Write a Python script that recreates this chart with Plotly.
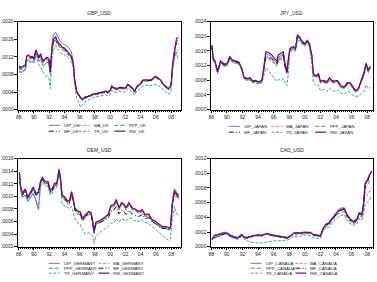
import plotly.graph_objects as go

# ---------------- DATA (values in units of 1e-4) ----------------
t_uk = [1988.05,1988.3,1988.6,1988.9,1989.05,1989.3,1989.55,1989.8,1990.0,1990.25,1990.45,1990.65,1990.9,
        1991.15,1991.45,1991.7,1991.95,1992.15,1992.35,1992.55,1992.85,1993.1,1993.4,1993.7,1994.0,1994.3,
        1994.6,1994.9,1995.15,1995.35,1995.6,1995.85,1996.1,1996.4,1996.7,1997.0,1997.4,1997.8,1998.2,1998.6,
        1999.0,1999.4,1999.7,2000.0,2000.2,2000.5,2000.9,2001.3,2001.7,2002.0,2002.3,2002.6,2002.9,2003.2,
        2003.5,2003.9,2004.3,2004.7,2005.1,2005.5,2005.9,2006.3,2006.7,2007.0,2007.3,2007.6,2007.85,2008.0,
        2008.2,2008.45,2008.7,2008.95]
uip_uk = [8.6,8.4,8.7,9.0,11.2,11.4,10.8,11.0,10.6,12.8,12.0,11.0,11.6,10.0,10.2,10.8,10.4,8.0,14.5,17.0,17.6,
          16.5,15.6,15.0,14.8,14.4,14.0,13.2,11.0,6.6,4.0,3.2,2.7,2.3,2.8,2.9,3.2,3.5,3.6,3.8,3.9,4.1,3.9,4.3,
          5.3,4.9,4.7,5.0,4.9,4.8,5.7,5.3,4.9,4.1,5.2,5.7,6.6,6.7,6.6,6.8,7.5,7.1,6.5,5.7,5.1,4.7,5.0,5.8,10.0,
          13.5,15.6,15.8]
ma_uk = [9.4,9.3,9.6,9.9,11.8,12.0,11.7,11.8,11.3,13.2,12.5,11.7,12.3,10.9,11.2,11.6,11.3,8.6,13.4,15.2,15.9,
         14.9,14.4,13.8,13.6,13.0,12.6,11.8,10.4,6.5,4.0,3.2,2.6,2.2,2.7,2.8,3.1,3.4,3.5,3.7,3.8,4.0,3.8,4.2,
         5.2,4.8,4.6,4.9,4.8,4.7,5.6,5.2,4.8,4.0,5.1,5.6,6.5,6.6,6.5,6.7,7.4,7.0,6.4,5.6,5.0,4.6,4.9,5.6,9.8,
         12.5,13.6,13.3]
ppp_uk = [9.2,9.1,9.4,9.7,11.6,11.8,11.5,11.6,11.1,13.0,12.3,11.5,12.1,10.7,11.0,11.4,11.1,8.4,13.2,15.0,15.7,
          14.7,14.2,13.6,13.4,12.8,12.4,11.6,10.2,6.3,3.9,3.1,2.5,2.1,2.6,2.7,3.0,3.3,3.4,3.6,3.7,3.9,3.7,4.1,
          5.1,4.7,4.5,4.8,4.7,4.6,5.5,5.1,4.7,3.9,5.0,5.5,6.4,6.5,6.4,6.6,7.3,6.9,6.3,5.5,4.9,4.5,4.8,5.5,9.6,
          12.2,13.0,12.8]
mf_uk = [9.6,9.5,9.8,10.0,12.0,12.2,11.8,11.9,11.4,13.4,12.6,11.8,12.5,11.0,11.3,11.7,11.4,8.6,13.6,15.5,16.2,
         15.1,14.6,14.0,13.8,13.2,12.8,12.0,10.6,6.6,4.1,3.3,2.7,2.3,2.8,2.9,3.2,3.5,3.6,3.8,3.9,4.1,3.9,4.3,
         5.3,4.9,4.7,5.0,4.9,4.8,5.7,5.3,4.9,4.1,5.2,5.7,6.6,6.7,6.6,6.8,7.5,7.1,6.5,5.7,5.1,4.7,5.0,5.8,10.1,
         13.4,15.3,15.0]
tr_uk = [8.8,8.6,8.9,9.2,11.0,11.2,10.6,10.9,10.6,12.2,11.2,10.2,9.5,8.6,7.8,7.6,7.3,4.8,11.5,13.5,14.6,
         13.8,13.2,12.6,12.5,12.0,11.6,10.8,9.5,5.5,2.6,1.8,0.6,1.2,1.8,2.0,2.4,2.8,2.9,3.1,3.2,3.4,3.1,3.5,
         4.4,4.0,3.9,4.2,4.1,4.0,4.8,4.5,4.1,3.3,4.3,4.8,5.4,5.6,5.4,5.5,5.8,5.5,5.0,4.4,3.9,3.5,3.7,4.6,9.0,
         12.0,12.8,11.3]
rw_uk = [9.9,9.6,9.9,10.2,12.2,12.4,12.0,12.1,11.6,13.6,12.8,12.0,12.7,11.2,11.5,11.9,11.6,8.8,13.9,15.9,16.6,
         15.4,14.9,14.2,14.0,13.4,13.0,12.2,10.8,6.8,4.2,3.4,2.8,2.4,2.9,3.0,3.3,3.6,3.7,3.9,4.0,4.2,4.0,4.4,
         5.4,5.0,4.8,5.1,5.0,4.9,5.8,5.4,5.0,4.2,5.3,5.8,6.7,6.8,6.7,6.9,7.6,7.2,6.6,5.8,5.2,4.8,5.1,5.9,10.4,
         14.0,16.2,16.4]

t_jp = [1988.08,1988.25,1988.5,1988.8,1989.2,1989.65,1990.07,1990.36,1990.7,1991.1,1991.54,1991.9,1992.2,1992.6,
        1993.0,1993.3,1993.65,1994.08,1994.5,1994.75,1995.0,1995.34,1995.76,1996.1,1996.4,1996.6,1997.03,1997.24,
        1997.45,1997.7,1997.87,1998.08,1998.5,1998.8,1999.05,1999.35,1999.56,1999.98,2000.32,2000.6,2000.9,
        2001.1,2001.45,2001.75,2002.0,2002.43,2002.85,2003.15,2003.44,2003.78,2004.2,2004.62,2005.05,2005.47,
        2005.8,2006.1,2006.52,2006.82,2007.16,2007.58,2007.87,2008.13,2008.42]
uip_jp = [17.2,13.6,12.9,10.2,13.0,12.2,12.4,14.2,13.4,13.0,12.7,11.2,8.7,8.3,8.5,7.6,7.8,7.4,7.8,11.6,15.2,15.0,
          14.3,13.4,12.8,14.2,14.8,15.2,12.2,10.0,13.0,16.3,16.9,16.4,20.0,19.5,18.6,17.7,18.6,17.7,14.6,9.6,9.0,
          9.6,7.6,7.8,7.4,8.5,7.8,7.6,7.8,6.3,6.0,7.2,7.2,6.3,5.0,5.4,7.6,9.8,12.4,10.6,11.5]
ma_jp = [16.8,13.4,12.6,10.0,12.8,11.8,12.2,13.9,13.0,12.8,12.5,10.9,8.5,8.1,8.3,7.4,7.6,7.2,7.6,10.8,14.0,13.8,
         13.2,12.4,11.8,13.2,13.8,14.1,11.5,9.6,12.4,15.8,16.4,16.0,19.6,19.2,18.3,17.4,18.2,17.4,14.2,9.2,8.6,
         9.2,7.2,7.4,7.0,8.1,7.4,7.2,7.4,6.0,5.7,6.8,6.8,5.9,4.7,5.1,7.1,9.2,11.8,10.0,11.0]
ppp_jp = [17.0,13.5,12.7,10.1,12.9,11.9,12.3,14.0,13.1,12.9,12.6,11.0,8.6,8.2,8.4,7.5,7.7,7.3,7.7,11.0,14.3,14.1,
          13.5,12.7,12.1,13.5,14.1,14.4,11.8,9.8,12.7,16.0,16.6,16.2,19.8,19.4,18.5,17.5,18.4,17.5,14.4,9.3,8.8,
          9.3,7.3,7.5,7.1,8.2,7.5,7.3,7.5,6.1,5.8,6.9,6.9,6.0,4.8,5.2,7.3,9.4,12.0,10.3,11.2]
mf_jp = [17.4,13.8,13.0,10.3,13.1,12.2,12.5,14.3,13.4,13.1,12.8,11.2,8.8,8.4,8.6,7.7,7.9,7.5,7.9,11.3,14.7,14.5,
         13.9,13.0,12.4,13.9,14.5,14.8,12.0,10.0,13.1,16.4,17.0,16.5,20.1,19.6,18.7,17.8,18.7,17.8,14.7,9.7,9.1,
         9.7,7.7,7.9,7.5,8.6,7.9,7.7,7.9,6.4,6.1,7.3,7.3,6.4,5.1,5.5,7.7,9.9,12.5,10.7,11.6]
tr_jp = [17.1,13.4,12.5,9.8,12.6,11.7,12.0,13.8,12.9,12.6,12.3,10.7,8.3,7.9,8.1,7.2,7.4,7.0,7.3,9.5,11.4,10.6,
         9.5,8.5,7.8,8.2,8.0,8.5,7.5,6.5,9.5,15.5,16.5,16.0,19.0,18.7,18.0,17.3,18.0,17.0,12.5,7.5,6.5,
         6.8,5.2,5.5,5.0,5.8,5.3,5.0,5.4,4.5,4.3,5.0,4.8,4.0,3.6,3.7,4.2,5.0,6.8,5.8,6.0]
rw_jp = [17.6,14.0,13.2,10.5,13.3,12.4,12.7,14.5,13.6,13.3,13.0,11.4,8.9,8.5,8.7,7.8,8.0,7.6,8.0,11.8,15.8,15.6,
         14.9,14.0,13.3,14.9,15.4,15.8,12.7,10.5,13.6,16.7,17.2,16.7,20.3,19.8,18.9,18.0,18.9,18.0,14.9,9.8,9.2,
         9.8,7.8,8.0,7.6,8.7,8.0,7.8,8.0,6.5,6.2,7.4,7.4,6.5,5.2,5.6,7.8,10.0,12.7,10.9,11.8]

t_de = [1988.09,1988.26,1988.5,1988.87,1989.2,1989.56,1989.9,1990.25,1990.6,1990.86,1991.1,1991.46,1991.85,
        1992.15,1992.4,1992.7,1993.0,1993.28,1993.45,1993.7,1994.06,1994.4,1994.67,1994.93,1995.1,1995.36,1995.7,
        1996.05,1996.4,1996.75,1997.2,1997.5,1997.7,1997.87,1998.13,1998.56,1999.0,1999.43,1999.77,2000.08,2000.5,
        2000.8,2001.16,2001.5,2001.8,2002.1,2002.46,2002.9,2003.3,2003.76,2004.2,2004.6,2005.05,2005.5,2005.9,
        2006.35,2006.8,2007.2,2007.65,2007.9,2008.17,2008.43,2008.74,2009.04]
uip_de = [13.4,11.2,9.8,10.2,9.2,9.8,10.4,9.5,8.0,12.0,12.8,12.2,12.0,10.6,10.8,11.8,11.8,14.4,13.4,10.0,9.8,9.2,
          9.2,10.8,10.0,8.1,7.6,7.5,6.4,7.0,7.5,7.3,6.1,4.4,5.8,6.0,6.3,6.7,7.1,8.4,8.6,9.4,8.1,8.9,8.7,8.1,8.9,
          8.1,7.9,7.5,7.8,7.0,7.1,6.2,6.0,5.5,5.1,5.1,4.9,4.9,9.2,11.2,10.6,10.2]
ma_de = [13.6,11.5,10.3,11.0,9.7,10.5,11.3,10.3,10.5,12.2,12.8,12.2,12.2,10.8,11.0,11.9,11.9,13.9,13.0,10.0,9.7,
         9.1,9.1,10.4,9.8,8.0,7.5,7.4,6.3,6.9,7.4,7.2,6.0,4.3,5.7,5.9,6.2,6.6,7.0,8.2,8.4,9.2,7.9,8.7,8.5,7.9,
         8.7,7.9,7.7,7.3,7.6,6.8,6.9,6.0,5.8,5.3,4.9,4.9,4.7,4.8,8.5,10.3,9.7,9.4]
ppp_de = [13.5,11.4,10.2,10.9,9.6,10.4,11.2,10.2,10.4,12.0,12.6,12.0,12.0,10.6,10.8,11.7,11.7,13.8,12.9,9.8,9.4,
          8.8,8.8,10.1,9.5,7.7,7.2,7.1,6.0,6.6,7.1,6.9,5.7,4.0,5.5,5.7,6.1,6.5,6.9,8.2,8.4,9.2,7.9,8.7,8.5,7.9,
          8.7,7.9,7.7,7.3,7.6,6.8,6.9,6.0,5.8,5.3,4.9,4.9,4.7,4.8,8.7,10.5,10.0,9.6]
mf_de = [13.5,11.4,10.2,10.9,9.6,10.4,11.2,10.2,10.4,12.1,12.7,12.1,12.1,10.7,10.9,11.8,11.8,13.9,13.0,9.9,9.6,
         9.0,9.0,10.4,9.7,7.9,7.4,7.3,6.2,6.8,7.3,7.1,5.9,4.2,5.6,5.8,6.0,6.3,6.6,7.6,7.8,8.4,7.2,7.8,7.6,7.1,
         7.8,7.2,7.0,6.8,7.1,6.5,6.6,5.9,5.7,5.3,4.9,4.9,4.8,4.8,9.0,11.0,10.4,10.0]
tr_de = [13.2,11.0,9.8,10.3,9.2,9.9,10.6,9.3,7.8,11.6,12.2,11.7,11.6,10.2,10.4,11.4,11.4,13.5,12.6,8.8,8.5,8.3,
         8.0,8.4,7.8,6.6,5.8,5.6,4.6,4.0,4.2,3.9,3.7,2.5,3.6,4.2,4.6,5.0,5.2,5.7,5.8,6.4,5.9,6.5,6.3,6.1,6.6,
         6.3,6.1,6.0,6.3,5.9,5.7,5.2,4.8,4.3,3.8,3.5,3.0,3.2,6.5,8.4,7.2,6.8]
rw_de = [13.8,11.7,10.5,11.2,9.9,10.7,11.5,10.5,10.7,12.4,13.0,12.4,12.4,11.0,11.2,12.1,12.1,14.2,13.3,10.2,9.9,
         9.3,9.3,10.7,10.0,8.2,7.7,7.6,6.5,7.1,7.6,7.4,6.2,4.5,5.9,6.1,6.4,6.8,7.2,8.5,8.7,9.5,8.2,9.0,8.8,8.2,
         9.0,8.2,8.0,7.6,7.9,7.1,7.2,6.3,6.1,5.6,5.2,5.2,5.0,5.0,8.9,10.8,10.2,9.8]

t_ca = [1988.08,1988.4,1988.8,1989.23,1989.66,1990.1,1990.5,1990.94,1991.36,1991.66,1991.9,1992.2,1992.64,
        1993.06,1993.5,1993.9,1994.34,1994.77,1995.2,1995.6,1996.04,1996.47,1996.9,1997.3,1997.74,1998.17,1998.6,
        1999.02,1999.45,1999.87,2000.3,2000.72,2001.15,2001.57,2002.0,2002.3,2002.64,2003.06,2003.5,2003.9,
        2004.34,2004.77,2005.06,2005.4,2005.83,2006.26,2006.68,2006.98,2007.32,2007.53,2007.74,2008.04,2008.3,
        2008.6]
uip_ca = [1.1,1.6,1.7,1.8,2.0,1.9,1.6,1.4,1.3,1.5,1.6,1.3,1.3,1.4,1.5,1.6,1.6,1.7,1.8,1.7,1.6,1.5,1.4,1.3,1.3,
          1.5,1.8,1.9,1.9,2.0,2.0,2.0,1.7,1.6,1.5,2.3,3.1,3.3,3.9,4.6,5.1,5.3,5.3,4.5,3.8,3.5,3.8,4.7,4.5,6.0,
          8.8,9.2,9.9,10.2]
ma_ca = [1.0,1.4,1.5,1.6,1.8,1.7,1.5,1.3,1.2,1.3,1.6,1.2,1.2,1.3,1.4,1.5,1.5,1.6,1.7,1.6,1.5,1.4,1.4,1.3,1.2,
         1.4,1.8,1.8,1.8,1.9,1.9,1.9,1.6,1.5,1.4,2.3,2.9,3.1,3.7,4.3,4.8,5.0,5.1,4.3,3.6,3.3,3.6,4.4,4.2,5.2,
         7.5,7.0,7.6,8.2]
ppp_ca = [0.9,1.3,1.4,1.5,1.7,1.6,1.4,1.2,1.1,1.3,1.5,1.2,1.1,1.3,1.4,1.5,1.4,1.6,1.7,1.5,1.4,1.4,1.3,1.2,1.1,
          1.4,1.7,1.7,1.7,1.8,1.8,1.8,1.5,1.4,1.4,2.2,2.7,2.9,3.5,4.1,4.5,4.7,4.8,4.0,3.4,3.1,3.4,4.2,4.0,5.4,
          8.0,8.4,8.9,9.0]
mf_ca = [1.0,1.2,1.3,1.6,1.8,1.7,1.4,1.3,1.2,1.4,1.6,1.3,1.2,1.4,1.5,1.6,1.5,1.7,1.8,1.6,1.5,1.5,1.4,1.3,1.2,
         1.4,1.8,1.9,1.8,1.9,1.9,1.9,1.6,1.5,1.4,2.3,2.9,3.1,3.7,4.3,4.8,5.0,5.1,4.3,3.6,3.3,3.6,4.5,4.3,5.6,
         8.4,8.8,9.6,10.0]
tr_ca = [0.9,1.3,1.4,1.5,1.7,1.6,1.3,1.1,1.0,1.2,1.4,1.0,0.8,0.6,0.6,0.5,0.5,0.6,0.7,0.7,0.8,0.8,0.8,0.8,0.9,
         1.1,1.4,1.4,1.4,1.6,1.6,1.5,1.2,1.1,1.1,2.0,2.5,2.6,3.2,3.7,4.1,4.3,4.4,3.7,3.1,2.9,3.1,3.8,3.6,4.5,
         5.8,6.0,6.5,6.9]
rw_ca = [1.0,1.5,1.6,1.7,1.9,1.8,1.5,1.3,1.2,1.4,1.7,1.3,1.2,1.4,1.5,1.6,1.5,1.7,1.8,1.6,1.5,1.5,1.4,1.3,1.2,
         1.5,1.9,1.9,1.8,2.0,2.0,1.9,1.6,1.5,1.5,2.4,3.0,3.2,3.8,4.4,4.9,5.1,5.2,4.4,3.7,3.4,3.7,4.6,4.4,5.8,
         8.6,9.0,9.8,10.3]

year_ticks = [1988, 1990, 1992, 1994, 1996, 1998, 2000, 2002, 2004, 2006, 2008]
year_labels = ["88", "90", "92", "94", "96", "98", "00", "02", "04", "06", "08"]

yt_uk = [0, 4, 8, 12, 16, 20]
yl_uk = [".0000", ".0004", ".0008", ".0012", ".0016", ".0020"]
yt_jp = [0, 4, 8, 12, 16, 20, 24]
yl_jp = [".0000", ".0004", ".0008", ".0012", ".0016", ".0020", ".0024"]
yt_de = [2, 4, 6, 8, 10, 12, 14, 16]
yl_de = [".0002", ".0004", ".0006", ".0008", ".0010", ".0012", ".0014", ".0016"]
yt_ca = [0, 2, 4, 6, 8, 10, 12]
yl_ca = [".0000", ".0002", ".0004", ".0006", ".0008", ".0010", ".0012"]

SCALE = 1e-4

# ---------------- STYLE ----------------
W, H = 377, 282
FONT = "Liberation Sans"
styles = {
    "UIP": dict(color="#6a6aff", dash="solid", width=1.0),
    "MA": dict(color="#ff7070", dash="3px,1.5px", width=1.0),
    "PPP": dict(color="#33a033", dash="4px,2px", width=1.0),
    "MF": dict(color="#000000", dash="5px,2px,1px,2px", width=0.9),
    "TR": dict(color="#3aa39a", dash="3px,1.5px", width=1.0),
    "RW": dict(color="#800080", dash="solid", width=1.2),
}


def px(x):
    return x / W


def py(y):
    return 1 - y / H


panels = [
    dict(name="GBP_USD", suffix="UK", t=t_uk,
         series=dict(UIP=uip_uk, MA=ma_uk, PPP=ppp_uk, MF=mf_uk, TR=tr_uk, RW=rw_uk),
         xdom=(16, 180), ydom=(19, 109), xr=[1987.9, 2009.3], yr=[0, 20], yt=yt_uk, yl=yl_uk,
         legend=dict(cols=[47, 77, 113], rows=[125, 131],
                     order=[["UIP", "MA", "PPP"], ["MF", "TR", "RW"]])),
    dict(name="JPY_USD", suffix="JAPAN", t=t_jp,
         series=dict(UIP=uip_jp, MA=ma_jp, PPP=ppp_jp, MF=mf_jp, TR=tr_jp, RW=rw_jp),
         xdom=(210, 373), ydom=(19, 109), xr=[1987.95, 2008.75], yr=[0, 24], yt=yt_jp, yl=yl_jp,
         legend=dict(cols=[228, 271, 315], rows=[126, 132],
                     order=[["UIP", "MA", "PPP"], ["MF", "TR", "RW"]])),
    dict(name="DEM_USD", suffix="GERMANY", t=t_de,
         series=dict(UIP=uip_de, MA=ma_de, PPP=ppp_de, MF=mf_de, TR=tr_de, RW=rw_de),
         xdom=(16, 180), ydom=(159, 249), xr=[1987.9, 2009.3], yr=[2, 16], yt=yt_de, yl=yl_de,
         legend=dict(cols=[47, 97], rows=[266, 271, 276],
                     order=[["UIP", "MA"], ["PPP", "MF"], ["TR", "RW"]])),
    dict(name="CAD_USD", suffix="CANADA", t=t_ca,
         series=dict(UIP=uip_ca, MA=ma_ca, PPP=ppp_ca, MF=mf_ca, TR=tr_ca, RW=rw_ca),
         xdom=(210, 373), ydom=(159, 249), xr=[1987.95, 2008.75], yr=[0, 12], yt=yt_ca, yl=yl_ca,
         legend=dict(cols=[250, 295], rows=[266, 271, 276],
                     order=[["UIP", "MA"], ["PPP", "MF"], ["TR", "RW"]])),
]

fig = go.Figure()
layout = dict(width=W, height=H, margin=dict(l=0, r=0, t=0, b=0),
              paper_bgcolor="white", plot_bgcolor="white", showlegend=False,
              font=dict(family=FONT, size=5, color="#222222"))
shapes, annotations = [], []

for i, p in enumerate(panels):
    k = "" if i == 0 else str(i + 1)
    xa, ya = "x" + k, "y" + k
    for key in ["UIP", "MA", "PPP", "MF", "TR", "RW"]:
        vals = [v * SCALE for v in p["series"][key]]
        st = styles[key]
        fig.add_trace(go.Scatter(x=p["t"], y=vals, mode="lines", xaxis=xa, yaxis=ya,
                                 name=f"{key}_{p['suffix']}",
                                 line=dict(color=st["color"], dash=st["dash"], width=st["width"])))
    layout["xaxis" + k] = dict(domain=[px(p["xdom"][0]), px(p["xdom"][1])], range=p["xr"],
                               anchor=ya, tickvals=year_ticks, ticktext=year_labels,
                               ticks="outside", ticklen=2.5, tickwidth=0.8, tickcolor="#000",
                               showgrid=False, zeroline=False, showline=True, mirror=True,
                               linecolor="#000", linewidth=0.9,
                               tickfont=dict(size=5, family=FONT, color="#222"),
                               minor=dict(dtick=0.25, tick0=1988, ticks="outside", ticklen=1.5,
                                          tickwidth=0.6, tickcolor="#000", showgrid=False))
    layout["yaxis" + k] = dict(domain=[py(p["ydom"][1]), py(p["ydom"][0])],
                               range=[p["yr"][0] * SCALE, p["yr"][1] * SCALE], anchor=xa,
                               tickvals=[v * SCALE for v in p["yt"]], ticktext=p["yl"],
                               ticks="outside", ticklen=2.5, tickwidth=0.8, tickcolor="#000",
                               showgrid=False, zeroline=False, showline=True, mirror=True,
                               linecolor="#000", linewidth=0.9,
                               tickfont=dict(size=5, family=FONT, color="#222"))
    # title
    cx = (p["xdom"][0] + p["xdom"][1]) / 2
    ty = 10 if p["ydom"][0] < 100 else 150
    annotations.append(dict(text=p["name"], x=px(cx), y=py(ty), xref="paper", yref="paper",
                            showarrow=False, xanchor="center", yanchor="middle",
                            font=dict(size=5, family=FONT, color="#222")))
    # legend (drawn manually, small)
    lg = p["legend"]
    for r, row in enumerate(lg["order"]):
        for c, key in enumerate(row):
            st = styles[key]
            x0 = lg["cols"][c]
            yy = lg["rows"][r]
            shapes.append(dict(type="line", xref="paper", yref="paper",
                               x0=px(x0), x1=px(x0 + 11), y0=py(yy), y1=py(yy),
                               line=dict(color=st["color"], dash=st["dash"], width=st["width"])))
            annotations.append(dict(text=f"{key}_{p['suffix']}", x=px(x0 + 13), y=py(yy),
                                    xref="paper", yref="paper", showarrow=False,
                                    xanchor="left", yanchor="middle",
                                    font=dict(size=4.3, family=FONT, color="#222")))

layout["shapes"] = shapes
layout["annotations"] = annotations
fig.update_layout(**layout)
fig.write_html("out.html")
